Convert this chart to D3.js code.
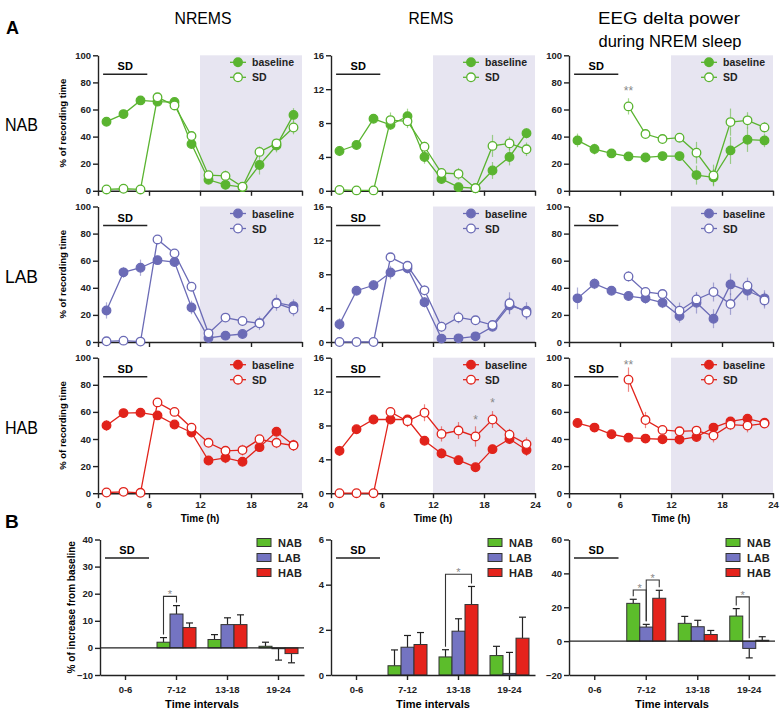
<!DOCTYPE html>
<html>
<head>
<meta charset="utf-8">
<script src="https://cdn.jsdelivr.net/npm/d3@7"></script>
<style>
body { margin: 0; background: #fff; }
svg { font-family: "Liberation Sans", Arial, sans-serif; }
.narrow { font-family: "Liberation Sans Narrow", "Arial Narrow", "Liberation Sans", sans-serif; }
.axis text { font-weight: bold; font-size: 9.5px; fill: #222; }
.axis path, .axis line { stroke: #222; stroke-width: 1.4px; }
</style>
</head>
<body>
<div id="chart"></div>
<script>
// ---- data ----
const hours = [1, 3, 5, 7, 9, 11, 13, 15, 17, 19, 21, 23];
const groups = ["NAB", "LAB", "HAB"];
const intervals = ["0-6", "7-12", "13-18", "19-24"];

// % of recording time, NREMS  (rows: NAB, LAB, HAB)
const nremsBase = [
    [51, 56.6, 66.7, 65.8, 65.5, 34.5, 8.1, 4.4, 2.7, 19, 33.4, 56],
    [23.3, 51.4, 54.8, 60.4, 59, 25.5, 3, 4.7, 5.9, 13.8, 29, 26.5],
    [50, 59.1, 59.4, 57.4, 50.7, 44.8, 24.1, 26.1, 23.2, 34, 45.3, 35.5]
];
const nremsBaseErr = [
    [2, 2, 2, 2, 2, 3, 3, 3, 1, 7, 5, 5],
    [6, 4, 6, 3, 3, 5, 2, 2, 2, 5, 6, 5],
    [4, 3, 2, 3, 2, 3, 3, 4, 3, 3, 3, 4]
];
const nremsSD = [
    [1, 1.5, 1, 69, 63, 40.4, 11.5, 11, 3, 28.7, 35, 46.7],
    [0.5, 1, 0.3, 75.7, 65.4, 40.8, 6.4, 18, 15.5, 13.8, 28.5, 24],
    [0.5, 1, 0.3, 67, 60, 48.3, 37.2, 31.3, 31.8, 39.9, 37.2, 35.2]
];
const nremsSDErr = [
    [0.5, 0.5, 0.5, 2, 2, 3, 2, 4, 1, 4, 3, 5],
    [0.5, 0.5, 0.5, 2, 2, 3, 2, 3, 3, 3, 4, 5],
    [0.5, 0.5, 0.5, 3, 3, 3, 3, 3, 4, 3, 4, 4]
];

// % of recording time, REMS
const remsBase = [
    [4.7, 5.4, 8.5, 7.8, 8.8, 4.0, 1.4, 0.43, 0.3, 2.4, 4.0, 6.8],
    [2.1, 6.06, 6.7, 8.2, 8.7, 4.7, 0.4, 0.43, 0.67, 1.8, 4.3, 3.7],
    [5.0, 7.55, 8.7, 8.7, 8.7, 6.2, 4.7, 3.9, 3.07, 5.2, 6.4, 5.1]
];
const remsBaseErr = [
    [0.6, 0.4, 0.5, 0.6, 0.9, 0.8, 0.4, 0.2, 0.2, 1.0, 1.0, 0.6],
    [0.7, 0.5, 0.6, 0.8, 0.6, 0.6, 0.3, 0.2, 0.3, 0.5, 1.0, 1.0],
    [0.6, 0.5, 0.5, 0.5, 0.5, 0.5, 0.6, 0.5, 0.5, 0.5, 0.6, 0.7]
];
const remsSD = [
    [0.1, 0.05, 0.05, 8.35, 8.2, 5.2, 2.1, 2.0, 0.3, 5.3, 5.6, 4.9],
    [0, 0, 0, 10.0, 9.0, 6.1, 1.8, 2.9, 2.56, 2.0, 4.57, 3.46],
    [0, 0, 0, 9.6, 8.5, 9.5, 7.0, 7.4, 6.7, 8.7, 6.9, 5.8]
];
const remsSDErr = [
    [0.1, 0.1, 0.1, 0.9, 0.8, 0.6, 0.5, 0.7, 0.2, 1.3, 0.8, 0.8],
    [0.1, 0, 0, 0.5, 0.5, 0.6, 0.6, 0.7, 0.5, 0.5, 1.3, 0.8],
    [0, 0, 0, 0.5, 0.7, 1.0, 0.9, 1.0, 1.2, 1.0, 0.7, 0.8]
];

// EEG delta power during NREM sleep
const deltaBase = [
    [37.2, 30.8, 27.6, 25.4, 24.6, 25.6, 25.6, 11.6, 9.9, 29.8, 37.7, 37.2],
    [32.2, 43, 37.8, 33.9, 32.2, 29, 19.2, 29, 17.2, 42.5, 37.8, 32.2],
    [51.8, 48.4, 43.5, 41, 40.3, 39.8, 39.6, 41.5, 48.4, 53, 55, 52]
];
const deltaBaseErr = [
    [5, 4, 3, 3, 3, 3, 3, 7, 6, 10, 9, 5],
    [8, 4, 3, 3, 4, 4, 5, 8, 7, 8, 7, 6],
    [3, 3, 2, 2, 2, 3, 3, 3, 3, 3, 3, 3]
];
const deltaSD = [
    [null, null, null, 62.3, 41.9, 38.2, 39.2, 28.1, 11.3, 50.7, 52, 46.8],
    [null, null, null, 48.4, 36.9, 35.4, 23.1, 31.4, 36.9, 28, 41.5, 30.7],
    [null, null, null, 83.8, 54, 46.7, 45.7, 46.2, 42.5, 50.6, 49.9, 51.4]
];
const deltaSDErr = [
    [null, null, null, 6, 3, 3, 3, 8, 8, 10, 6, 4],
    [null, null, null, 4, 3, 3, 6, 5, 7, 8, 6, 6],
    [null, null, null, 9, 6, 3, 3, 3, 5, 4, 5, 3]
];

// significance marks in A: [measure, group, hour, level, text]
const lineStars = [
    ["delta", "NAB", 7, 75, "**"],
    ["rems", "HAB", 17, 8.9, "*"],
    ["rems", "HAB", 19, 10.9, "*"],
    ["delta", "HAB", 7, 96, "**"]
];

// B: % of increase from baseline, per interval (0-6 has no value)
const nremsInc = { NAB: [null, 2.1, 3.1, 0.6], LAB: [null, 12.5, 8.6, -0.3], HAB: [null, 7.5, 8.6, -2.1] };
const nremsIncErr = { NAB: [null, 1.7, 1.8, 1.5], LAB: [null, 3.1, 2.5, 4.2], HAB: [null, 1.7, 3.6, 3.4] };
const remsInc = { NAB: [null, 0.41, 0.8, 0.86], LAB: [null, 1.23, 1.94, 0.07], HAB: [null, 1.35, 3.12, 1.63] };
const remsIncErr = { NAB: [null, 0.7, 0.32, 0.41], LAB: [null, 0.52, 0.55, 0.93], HAB: [null, 0.53, 0.8, 0.93] };
const deltaInc = { NAB: [null, 22.3, 10.5, 14.8], LAB: [null, 8.3, 8.5, -4.3], HAB: [null, 25.3, 3.9, 0.5] };
const deltaIncErr = { NAB: [null, 2.4, 4.1, 4.4], LAB: [null, 1.6, 3.8, 5.6], HAB: [null, 4.7, 2.4, 2.1] };

// brackets in B: [interval, from group, to group, level]
const nremsSig = [["7-12", "NAB", "LAB", 19]];
const remsSig = [["13-18", "NAB", "HAB", 4.46]];
const deltaSig = [["7-12", "NAB", "LAB", 30.2], ["7-12", "LAB", "HAB", 36.1], ["19-24", "NAB", "LAB", 26.1]];

// ---- styles / layout ----
const lineColor = { NAB: "#5ab430", LAB: "#6b6bb6", HAB: "#e1231b" };
const barColor = { NAB: "#5cbd2b", LAB: "#7474c2", HAB: "#e5231c" };
const shade = "#e7e5f1";
const colX = [98, 331, 569];
const rowY = [55.3, 206.5, 357.7];
const plotW = 204, plotH = 135.5;
const bTop = 539.5, bH = 135.5;
const bX = [100, 331, 569], bW = [204, 204, 206];
const intFmt = d3.format("d");

const svg = d3.select("#chart").append("svg")
    .attr("width", 783).attr("height", 712);

// titles
svg.append("text").attr("x", 6).attr("y", 34)
    .style("font-size", "18px").style("font-weight", "bold").text("A");
svg.append("text").attr("x", 5).attr("y", 528)
    .style("font-size", "19px").style("font-weight", "bold").text("B");
[["NREMS", 203, 24, 57], ["REMS", 431, 24, 45], ["EEG delta power", 669, 24, 142], ["during NREM sleep", 670, 47, 143]]
    .forEach(([t, x, y, len]) => {
        svg.append("text").attr("class", "narrow").attr("x", x).attr("y", y)
            .attr("text-anchor", "middle").attr("textLength", len).attr("lengthAdjust", "spacingAndGlyphs")
            .style("font-size", "17px").text(t);
    });
groups.forEach((gName, i) => {
    svg.append("text").attr("class", "narrow").attr("x", 5).attr("y", rowY[i] + 76)
        .attr("textLength", 33).attr("lengthAdjust", "spacingAndGlyphs")
        .style("font-size", "19px").text(gName);
});

function sdBar(g, x1, x2, y) {
    g.append("line").attr("x1", x1).attr("x2", x2).attr("y1", y).attr("y2", y)
        .attr("stroke", "#222").attr("stroke-width", 1.4);
    g.append("text").attr("x", (x1 + x2) / 2).attr("y", y - 4).attr("text-anchor", "middle")
        .style("font-size", "11px").style("font-weight", "bold").text("SD");
}

function drawLinePanel(cfg) {
    const g = svg.append("g");
    const x = d3.scaleLinear().domain([0, 24]).range([cfg.x0, cfg.x0 + plotW]);
    const y = d3.scaleLinear().domain([0, cfg.yMax]).range([cfg.y0 + plotH, cfg.y0]);

    g.append("rect").attr("x", x(12)).attr("y", y(cfg.yMax))
        .attr("width", x(24) - x(12)).attr("height", y(0) - y(cfg.yMax)).attr("fill", shade);

    sdBar(g, x(0.6), x(5.8), cfg.y0 + 19);

    g.append("g").attr("class", "axis").attr("transform", `translate(${cfg.x0},0)`)
        .call(d3.axisLeft(y).tickValues(cfg.yTicks).tickSize(5).tickPadding(2).tickSizeOuter(0).tickFormat(intFmt));
    g.append("g").attr("class", "axis").attr("transform", `translate(0,${y(0)})`)
        .call(d3.axisBottom(x).tickValues([0, 6, 12, 18, 24]).tickSize(5).tickSizeOuter(0)
            .tickFormat(cfg.showX ? intFmt : () => ""));

    if (cfg.yLabel) {
        g.append("text").attr("transform", `translate(62,${cfg.y0 + plotH / 2}) rotate(-90)`)
            .attr("text-anchor", "middle").attr("dominant-baseline", "central")
            .style("font-size", "9.5px").style("font-weight", "bold").text(cfg.yLabel);
    }
    if (cfg.showX) {
        g.append("text").attr("x", cfg.x0 + plotW / 2).attr("y", y(0) + 29).attr("text-anchor", "middle")
            .style("font-size", "10px").style("font-weight", "bold").text("Time (h)");
    }

    const color = lineColor[cfg.group];
    const series = [
        { vals: cfg.base, errs: cfg.baseErr, fill: color },
        { vals: cfg.sd, errs: cfg.sdErr, fill: "#fff" }
    ];
    series.forEach(s => {
        const pts = hours.map((h, i) => ({ h, v: s.vals[i], e: s.errs[i] }));
        g.append("g").selectAll("line").data(pts.filter(p => p.v != null && p.e))
            .join("line")
            .attr("x1", p => x(p.h)).attr("x2", p => x(p.h))
            .attr("y1", p => y(Math.max(0, p.v - p.e))).attr("y2", p => y(p.v + p.e))
            .attr("stroke", color).attr("stroke-opacity", 0.55).attr("stroke-width", 1.2);
        g.append("path").datum(pts)
            .attr("d", d3.line().defined(p => p.v != null).x(p => x(p.h)).y(p => y(p.v)))
            .attr("fill", "none").attr("stroke", color).attr("stroke-width", 1.3);
        g.append("g").selectAll("circle").data(pts.filter(p => p.v != null))
            .join("circle")
            .attr("cx", p => x(p.h)).attr("cy", p => y(p.v)).attr("r", 4.3)
            .attr("fill", s.fill).attr("stroke", color).attr("stroke-width", 1.3);
    });

    lineStars.filter(s => s[0] === cfg.key && s[1] === cfg.group).forEach(s => {
        g.append("text").attr("x", x(s[2])).attr("y", y(s[3]) + 6).attr("text-anchor", "middle")
            .style("font-size", "12px").attr("fill", "#888").text(s[4]);
    });

    // legend
    [["baseline", color, 7], ["SD", "#fff", 22]].forEach(([label, fill, dy]) => {
        const ly = cfg.y0 + dy;
        g.append("line").attr("x1", cfg.x0 + 132).attr("x2", cfg.x0 + 148)
            .attr("y1", ly).attr("y2", ly).attr("stroke", color).attr("stroke-width", 1.3);
        g.append("circle").attr("cx", cfg.x0 + 140).attr("cy", ly).attr("r", 4.3)
            .attr("fill", fill).attr("stroke", color).attr("stroke-width", 1.3);
        g.append("text").attr("x", cfg.x0 + 154).attr("y", ly + 4)
            .style("font-size", "10.5px").style("font-weight", "bold").attr("fill", "#222").text(label);
    });
}

const measures = [
    { key: "nrems", base: nremsBase, baseErr: nremsBaseErr, sd: nremsSD, sdErr: nremsSDErr, yMax: 100, yTicks: [0, 20, 40, 60, 80, 100] },
    { key: "rems", base: remsBase, baseErr: remsBaseErr, sd: remsSD, sdErr: remsSDErr, yMax: 16, yTicks: [0, 4, 8, 12, 16] },
    { key: "delta", base: deltaBase, baseErr: deltaBaseErr, sd: deltaSD, sdErr: deltaSDErr, yMax: 100, yTicks: [0, 20, 40, 60, 80, 100] }
];

measures.forEach((m, c) => {
    groups.forEach((gName, r) => {
        drawLinePanel({
            key: m.key, group: gName, x0: colX[c], y0: rowY[r], yMax: m.yMax, yTicks: m.yTicks,
            base: m.base[r], baseErr: m.baseErr[r], sd: m.sd[r], sdErr: m.sdErr[r],
            showX: r === 2, yLabel: c === 0 ? "% of recording time" : null
        });
    });
});

// ---- B: bar panels ----
function drawBarPanel(cfg) {
    const g = svg.append("g");
    const xb = d3.scaleBand().domain(intervals).range([cfg.x0, cfg.x0 + cfg.w]);
    const inner = d3.scaleBand().domain(groups).range([0, 39]);
    const y = d3.scaleLinear().domain(cfg.yDomain).range([bTop + bH, bTop]);
    const barX = (iv, gName) => xb(iv) + xb.bandwidth() / 2 - 19.5 + inner(gName);
    const bw = inner.bandwidth();

    sdBar(g, xb("0-6") + 5, xb("0-6") + xb.bandwidth() - 2, bTop + 18.5);

    groups.forEach(gName => {
        const pts = intervals.map((iv, i) => ({ iv, v: cfg.vals[gName][i], e: cfg.errs[gName][i] }))
            .filter(p => p.v != null);
        pts.forEach(p => {
            const cx = barX(p.iv, gName) + bw / 2;
            const end = y(p.v + Math.sign(p.v) * p.e);
            g.append("line").attr("x1", cx).attr("x2", cx).attr("y1", y(p.v)).attr("y2", end)
                .attr("stroke", "#222").attr("stroke-width", 1.2);
            g.append("line").attr("x1", cx - 3.5).attr("x2", cx + 3.5).attr("y1", end).attr("y2", end)
                .attr("stroke", "#222").attr("stroke-width", 1.2);
        });
        g.append("g").selectAll("rect").data(pts).join("rect")
            .attr("x", p => barX(p.iv, gName)).attr("width", bw)
            .attr("y", p => y(Math.max(0, p.v)))
            .attr("height", p => Math.abs(y(p.v) - y(0)))
            .attr("fill", barColor[gName]).attr("stroke", "#333").attr("stroke-width", 1);
    });

    if (cfg.yDomain[0] < 0) {
        g.append("line").attr("x1", cfg.x0).attr("x2", cfg.x0 + cfg.w).attr("y1", y(0)).attr("y2", y(0))
            .attr("stroke", "#222").attr("stroke-width", 1.3);
    }

    g.append("g").attr("class", "axis").attr("transform", `translate(${cfg.x0},0)`)
        .call(d3.axisLeft(y).tickValues(cfg.yTicks).tickSize(5).tickPadding(2).tickSizeOuter(0).tickFormat(intFmt));
    g.append("g").attr("class", "axis").attr("transform", `translate(0,${bTop + bH})`)
        .call(d3.axisBottom(xb).tickSize(5).tickSizeOuter(0).tickPadding(6));

    g.append("text").attr("x", cfg.x0 + cfg.w / 2).attr("y", 708).attr("text-anchor", "middle")
        .style("font-size", "11px").style("font-weight", "bold").text("Time intervals");
    if (cfg.yLabel) {
        g.append("text").attr("transform", `translate(71,${bTop + bH / 2}) rotate(-90)`)
            .attr("text-anchor", "middle").attr("dominant-baseline", "central")
            .style("font-size", "10px").style("font-weight", "bold").text(cfg.yLabel);
    }

    // significance brackets
    cfg.sig.forEach(([iv, a, b, level]) => {
        const i = intervals.indexOf(iv);
        const xa = barX(iv, a) + bw / 2, xbb = barX(iv, b) + bw / 2;
        const legEnd = gName => {
            const v = cfg.vals[gName][i], e = cfg.errs[gName][i];
            return y(Math.max(0, v > 0 ? v + e : 0)) - 3;
        };
        const yl = y(level);
        g.append("path")
            .attr("d", `M${xa},${legEnd(a)}V${yl}H${xbb}V${legEnd(b)}`)
            .attr("fill", "none").attr("stroke", "#333").attr("stroke-width", 1.1);
        g.append("text").attr("x", (xa + xbb) / 2).attr("y", yl + 2).attr("text-anchor", "middle")
            .style("font-size", "11px").attr("fill", "#888").text("*");
    });

    // legend
    groups.forEach((gName, k) => {
        const ly = bTop + 3 + k * 15;
        g.append("rect").attr("x", cfg.x0 + 157).attr("y", ly - 4).attr("width", 14).attr("height", 8)
            .attr("fill", barColor[gName]).attr("stroke", "#333").attr("stroke-width", 1);
        g.append("text").attr("x", cfg.x0 + 178).attr("y", ly + 4)
            .style("font-size", "11px").style("font-weight", "bold").attr("fill", "#222").text(gName);
    });
}

drawBarPanel({ x0: bX[0], w: bW[0], yDomain: [-10, 40], yTicks: [-10, 0, 10, 20, 30, 40],
    vals: nremsInc, errs: nremsIncErr, sig: nremsSig, yLabel: "% of increase from baseline" });
drawBarPanel({ x0: bX[1], w: bW[1], yDomain: [0, 6], yTicks: [0, 2, 4, 6],
    vals: remsInc, errs: remsIncErr, sig: remsSig });
drawBarPanel({ x0: bX[2], w: bW[2], yDomain: [-20, 60], yTicks: [-20, 0, 20, 40, 60],
    vals: deltaInc, errs: deltaIncErr, sig: deltaSig });
</script>
</body>
</html>
